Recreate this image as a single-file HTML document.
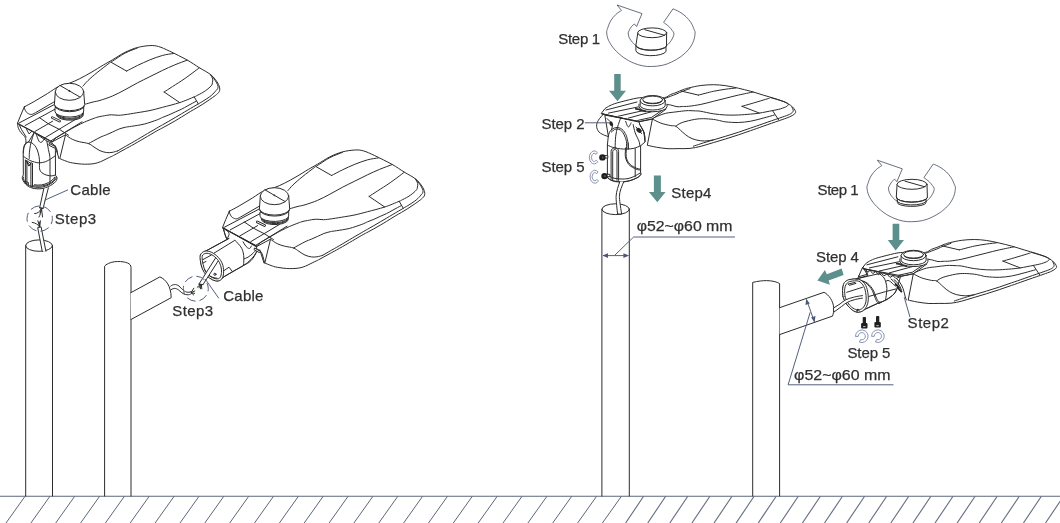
<!DOCTYPE html>
<html><head><meta charset="utf-8"><title>Installation steps</title>
<style>
html,body{margin:0;padding:0;background:#fff;}
body{width:1060px;height:523px;overflow:hidden;}
svg{display:block;will-change:transform;font-family:"Liberation Sans",sans-serif;}
.k{fill:none;stroke:#2c2c2c;stroke-width:1;stroke-linecap:round;stroke-linejoin:round;}
.kw{fill:#fff;stroke:#2c2c2c;stroke-width:1;stroke-linecap:round;stroke-linejoin:round;}
.t{fill:none;stroke:#3a3a3a;stroke-width:0.7;stroke-linecap:round;stroke-linejoin:round;}
.tw{fill:#fff;stroke:#3a3a3a;stroke-width:0.7;stroke-linecap:round;stroke-linejoin:round;}
.b{fill:none;stroke:#56607c;stroke-width:1;stroke-linecap:round;stroke-linejoin:round;}
.g{fill:#5d8f8d;stroke:none;}
text{fill:#303030;font-size:15px;stroke:#303030;stroke-width:0.25px;}
</style></head>
<body>
<svg width="1060" height="523" viewBox="0 0 1060 523">
<rect width="1060" height="523" fill="#fff"/>
<!-- ground -->
<g fill="none" stroke="#5d6778" stroke-width="1" stroke-linecap="butt">
<path d="M0 496.3H1060" stroke-width="1.1"/>
<path d="M25.0 496.3L6.0 523 M49.9 496.3L30.9 523 M74.7 496.3L55.7 523 M99.6 496.3L80.6 523 M124.4 496.3L105.4 523 M149.2 496.3L130.2 523 M174.1 496.3L155.1 523 M199.0 496.3L180.0 523 M223.8 496.3L204.8 523 M248.7 496.3L229.7 523 M273.5 496.3L254.5 523 M298.4 496.3L279.4 523 M323.2 496.3L304.2 523 M348.1 496.3L329.1 523 M372.9 496.3L353.9 523 M397.8 496.3L378.8 523 M422.6 496.3L403.6 523 M447.5 496.3L428.5 523 M472.3 496.3L453.3 523 M497.2 496.3L478.2 523 M522.0 496.3L503.0 523 M546.9 496.3L527.9 523 M571.7 496.3L552.7 523 M596.6 496.3L577.6 523 M621.4 496.3L602.4 523"/>
<path d="M643.6 496.3L625.6 523 M665.7 496.3L647.7 523 M687.8 496.3L669.8 523 M709.9 496.3L691.9 523 M732.0 496.3L714.0 523 M754.1 496.3L736.1 523 M776.2 496.3L758.2 523 M798.3 496.3L780.3 523 M820.4 496.3L802.4 523 M842.5 496.3L824.5 523 M864.6 496.3L846.6 523 M886.7 496.3L868.7 523 M908.8 496.3L890.8 523 M930.9 496.3L912.9 523 M953.0 496.3L935.0 523 M975.1 496.3L957.1 523 M997.2 496.3L979.2 523 M1019.3 496.3L1001.3 523 M1041.4 496.3L1023.4 523 M1063.5 496.3L1045.5 523" stroke-width="1.15" stroke="#677182"/>
</g>
<!-- poles -->
<g class="k">
<path d="M25.7 245.6V496 M52.5 245.6V496"/>
<ellipse cx="39.1" cy="245.6" rx="13.4" ry="5.7"/>
<path d="M104.6 496V266.2 L106 264.8 C109 262.8 113 261.6 117.6 261.5 C121.5 261.5 125 261.9 127.6 263 C129.8 264 131 265.4 131 267.4 V496"/>
<path d="M601.9 209.2V496 M629.3 209.2V496"/>
<ellipse cx="615.7" cy="209.2" rx="13.7" ry="5.4"/>
<path d="M752.7 496V282.4 C758 281.1 763 280.6 766.5 280.6 C772 280.7 777 281.8 779.6 283.6 V496"/>
</g>

<defs><g id="lampL">
<path class="kw" d="M24.5 106.8 C26.2 105.8 31.1 103.3 34.9 101.1 C38.7 98.9 43.2 96.1 47.4 93.6 C51.5 91 56.2 87.5 59.8 85.8 C63.4 84.1 65.9 84.5 69.2 83.3 C72.5 82.1 76.1 80.5 79.7 78.7 C83.3 76.9 87 74.8 91 72.5 C95 70.2 99.8 67.1 103.4 65 C107 62.9 108.9 61.9 112.5 59.8 C116.1 57.7 120.8 54.4 124.9 52.4 C129.1 50.4 133.2 48.6 137.4 47.5 C141.6 46.4 146.3 45.8 149.8 45.6 C153.3 45.4 155.2 45.6 158.5 46.5 C161.8 47.4 164.9 49 169.7 51.2 C174.5 53.5 182.2 57.3 187.1 60 C192 62.7 195.2 65.2 199.1 67.6 C203 70 207.6 72.2 210.5 74.5 C213.4 76.8 215.3 79.4 216.8 81.5 C218.3 83.6 219 85.6 219.5 87.1 C220 88.6 219.8 89.6 219.6 90.5 C219.4 91.4 219.3 91.7 218.6 92.5 C217.9 93.3 217.1 94.2 215.5 95.4 C213.9 96.6 211.3 98.5 209.2 99.9 C207.1 101.4 205 102.8 202.9 104.1 C200.8 105.4 198.6 106.8 196.5 108 C194.4 109.2 192.7 110.1 190.2 111.6 C187.7 113.1 184 115.5 181.5 117 C179 118.5 177.3 119.6 175.2 120.8 C173.1 122 170.9 123.3 168.9 124.4 C166.9 125.5 165.2 126.4 163.2 127.5 C161.2 128.6 160 129.1 156.8 130.9 C153.6 132.7 148.4 135.9 144.2 138.3 C140 140.8 134.7 143.8 131.5 145.6 C128.3 147.4 127.3 147.8 125.2 149 C123.1 150.2 120.9 151.4 118.9 152.5 C116.9 153.6 115 154.7 113.4 155.5 C111.9 156.3 112.3 156.1 109.6 157.3 C106.9 158.5 101.3 161.8 97.2 162.9 C93.1 164.1 88.9 164.2 84.7 164.2 C80.5 164.2 75.4 163.4 72.3 162.9 C69.2 162.4 68.1 161.8 66 161.1 C63.9 160.4 60.8 159 59.8 158.6 L65.5 134.8 L52.3 141.8 L17.5 123.2 L20.8 115 L24.4 106.7Z"/>
<path class="k" d="M210.5 74.8 C210.8 75.1 211.5 75.2 212.4 76.4 C213.3 77.6 215.3 80.5 216.2 82.1 C217.1 83.7 217.8 85.1 218 86.2 C218.2 87.3 217.9 87.9 217.7 88.5 C217.5 89.1 217.5 88.9 216.7 89.8 C215.9 90.7 214.2 92.8 212.9 94 C211.7 95.2 210.9 95.9 209.2 97.1 C207.5 98.3 204.7 100.1 202.9 101.2 C201.1 102.3 200.8 102.4 198.3 103.9 C195.8 105.4 190.7 108.3 187.9 110 C185.1 111.7 183.6 112.5 181.5 113.8 C179.4 115 177.3 116.3 175.2 117.5 C173.1 118.7 171 120 168.9 121.2 C166.8 122.4 164.6 123.7 162.6 124.8 C160.6 125.9 159.9 126.3 156.8 128.1 C153.7 129.9 148.4 133 144.2 135.5 C140 138 134.7 141.2 131.5 143 C128.3 144.8 127.5 145.2 125.2 146.5 C122.9 147.8 119 150.2 117.7 150.9"/>
<path class="k" d="M210.5 74.8 C210.9 75.5 212.4 77.6 212.7 78.9 C213 80.2 212.6 81.7 212.4 82.7 C212.2 83.8 212.4 84.2 211.7 85.2 C210.9 86.2 209.4 87.7 207.9 88.9 C206.4 90.1 204.8 91.2 202.9 92.4 C201 93.6 197.9 95 196.5 95.8 C195.1 96.5 197 95.8 194.2 96.9 C191.4 98 185 100.9 179.7 102.6 C174.4 104.3 167.5 106 162.6 107.3 C157.7 108.6 153.8 109.7 150 110.5 C146.2 111.3 143.6 111.7 139.8 112.3 C136 112.9 130.9 113.8 127.4 114.3 C123.9 114.8 121.3 115.2 118.6 115.3 C115.9 115.4 113.9 114.7 111.2 114.8 C108.5 114.9 104.7 115.7 102.5 116.1 C100.3 116.5 99.6 116.6 98 117 C96.4 117.4 95.2 117.9 93 118.7 C90.8 119.5 87.5 120.8 84.7 122 C81.9 123.2 79.2 124.6 76.4 126.1 C73.6 127.5 71.6 128.7 68.1 130.7 C64.6 132.7 57.7 136.8 55.6 138"/>
<path class="k" d="M194.2 96.9 L198.3 103.9"/>
<path class="k" d="M196.1 101.3 C194.7 102 190.3 104.4 187.9 105.7 C185.5 107 183.6 108.2 181.5 109.2 C179.4 110.2 177.3 111 175.2 112 C173.1 113 171 114 168.9 114.9 C166.8 115.8 164.6 116.6 162.6 117.4 C160.6 118.2 159.9 118.9 156.8 120 C153.7 121.1 148.4 123 144.2 124.1 C140 125.1 134.7 125.8 131.5 126.3 C128.3 126.8 127.3 126.8 125.2 127.3 C123.1 127.8 121 128.3 118.9 129.1 C116.8 129.9 114.7 131.1 112.6 132 C110.5 132.9 108.4 133.9 106.3 134.8 C104.2 135.7 103 135.9 100 137.4 C97 138.9 90.4 142.6 88.5 143.6"/>
<path class="k" d="M65.5 134.8 C66.6 135.6 69.9 138.1 72.3 139.3 C74.7 140.5 77 141.1 79.7 141.8 C82.4 142.5 86.1 142.7 88.5 143.6 C90.9 144.5 92.1 145.8 94 147 C95.9 148.2 98 149.8 100 150.7 C102 151.6 104.3 152.2 106.3 152.5 C108.3 152.8 110.1 152.7 112 152.4 C113.9 152.1 116.8 151.2 117.7 150.9"/>
<path class="k" d="M82.9 86.2 C83.8 85.2 85.6 82.8 88 80.5 C90.4 78.2 93.6 75.4 97.2 72.5 C100.8 69.6 107.1 64.8 109.6 62.9 C112.1 61 109.7 62.9 112.2 61.3 C114.8 59.7 120.7 55.4 124.9 53.2 C129.1 51 135.3 48.9 137.4 48"/>
<path class="k" d="M111.2 62.3 L126.6 71.1"/>
<path class="k" d="M126.6 71.1 C128.4 70.2 133.5 67.4 137.4 65.5 C141.3 63.6 145.7 61.6 149.8 59.9 C154 58.2 158.4 56.6 162.3 55.5 C166.2 54.4 171.6 53.8 173.5 53.5"/>
<path class="k" d="M85.5 104.1 C86.8 103.8 90.6 102.6 93 102 C95.4 101.4 96.8 101.4 100 100.4 C103.2 99.4 108.3 97.8 112.5 96 C116.7 94.2 120.8 92 124.9 89.8 C129.1 87.6 133.2 85.1 137.4 82.9 C141.6 80.7 145.7 78.8 149.8 76.7 C154 74.6 158.2 72.5 162.3 70.5 C166.5 68.5 170.6 66.6 174.7 64.9 C178.8 63.2 185 61 187.1 60.2"/>
<path class="k" d="M199.1 68 C196.8 69.7 189.6 75.2 185.2 78.3 C180.8 81.4 176.1 84.2 172.6 86.5 C169.1 88.8 165.5 91.1 164.1 92"/>
<path class="k" d="M164.1 92 L179.7 102.6"/>
<path class="k" d="M24.4 106.7 C24.4 107 24.4 108.2 24.6 108.8 C24.8 109.4 25.1 109.9 25.4 110.5 C25.7 111.1 26.1 111.9 26.6 112.4 C27.1 112.9 27.9 113.4 28.5 113.7 C29.1 114 29.8 114.3 30.4 114.4 C31 114.5 31.4 114.6 32.3 114.3 C33.1 114 35 113 35.5 112.7 L54.6 101.6"/>
<path class="k" d="M19.4 122.8 L54.6 104.4"/>
<path class="k" d="M25.2 125.5 L55 109.2"/>
<path class="k" d="M34.9 131.5 L52.6 121.2"/>
<path class="k" d="M45.7 137.3 L74.7 119.9"/>
<path class="k" d="M52.3 141.8 L55.6 138"/>
<path class="k" d="M51.3 140.6 L82 121.8"/>
<path class="k" d="M39.2 117.5 L48.4 123.8 L59.8 129.6 L68.5 135.2"/>
<path class="k" d="M18 123.9 L51.8 142" stroke-width="2.3" stroke-linecap="butt"/>
<path d="M52.3 117.6L59.6 121.1" stroke="#2a2a2a" stroke-width="2.7" stroke-linecap="round" fill="none"/><path d="M52.3 117.6L59.6 121.1" stroke="#fff" stroke-width="0.9" stroke-linecap="round" fill="none"/>
<path class="k" d="M54.8 145.4 L59 158.6"/>
<path class="kw" d="M56.6 113 V115.7 A12.9 5.2 0 0 0 83.1 113.8 V110Z"/>
<path class="k" d="M56.4 114.6 A13.1 5.3 0 0 0 83.2 113 M56.2 113.6 A13.3 5.3 0 0 0 83.3 112.2" stroke-width="0.55"/>
<path class="kw" d="M55 108 V111.8 A14 5.6 0 0 0 83.7 110.8 V106Z"/>
<path class="kw" d="M55.3 91.8 L54.4 104.6 A15.2 6.6 0 0 0 84.7 104.6 L83.7 91.8Z"/>
<path class="k" d="M54.6 105.8 A15 6.4 0 0 0 84.5 105.8"/>
<ellipse class="kw" cx="69.5" cy="91.8" rx="14.2" ry="8.5"/>
<path class="k" d="M60.1 85.5 L80 97.1"/>
<circle cx="69.4" cy="90.9" r="0.9" fill="#2e2e2e"/>
</g></defs>
<use href="#lampL"/>
<use href="#lampL" x="205" y="104.4"/>

<g id="lamp1x">
<path class="kw" d="M23.2 152 C23.2 146 25 142.5 28.5 142 L34.2 132.6 L46.8 141 L51.9 143.3 C54.5 145 55.6 147 55.4 152 L55.5 175.2 L57 177.6 C57.6 181 53 185 45.5 187.8 C41 189.3 35 189.3 30.5 187.5 C26 185.5 22.6 181.5 22.2 177.6 L23.2 175.2Z"/>
<path class="k" d="M17.5 123.5 C17.6 124.3 17.8 126.7 18.4 128.2 C19 129.7 19.8 131.2 20.9 132.6 C21.9 134 23.8 135 24.7 136.4 C25.6 137.8 25.9 139.6 26 140.8 C26.1 142 25.7 143.1 25.6 143.5"/>
<path class="k" d="M19.5 125.2 C19.8 125.9 20.7 128.1 21.5 129.5 C22.3 130.9 23.4 132.6 24.2 133.8 C25 135.1 25.9 136.5 26.2 137"/>
<path class="k" d="M26.6 129.5 L29.1 133.9 L31.7 131.4"/>
<path class="k" d="M34.2 132.6 C33.8 133.7 32.6 136.9 32 139 C31.4 141.1 30.8 142.9 30.4 145.2 C30 147.5 29.6 150.6 29.4 152.8 C29.2 155 29.3 157.5 29.3 158.4"/>
<path class="k" d="M23.4 153 C23.5 152.1 23.6 149 24 147.5 C24.4 146 24.9 144.7 25.6 143.8 C26.4 142.9 27.4 142.2 28.5 142.1 C29.6 142 30.9 142.4 32 143 C33 143.6 33.9 144.4 34.8 145.6 C35.7 146.8 36.6 148.2 37.3 150 C38 151.8 38.6 154.3 39 156.3 C39.4 158.3 39.4 159.9 39.5 162 C39.6 164.1 39.2 167.1 39.6 168.9 C40 170.7 40.6 171.6 41.8 172.7 C43 173.8 45.1 174.7 46.8 175.2 C48.5 175.7 50.5 175.9 51.9 175.9 C53.3 175.9 54.7 175.1 55.3 174.9"/>
<path class="k" d="M36.1 133.9 C36.3 134.6 37 136.5 37.5 137.8 C38 139.1 38.6 140.7 39.2 141.5 C39.8 142.3 40.5 142.5 41.1 142.4 C41.7 142.3 42.4 141.6 43 140.8 C43.6 140 44.6 138.2 44.9 137.7"/>
<path class="k" d="M46.8 141.5 C46.9 142.1 47.3 143.7 47.6 145 C47.9 146.3 48.1 147.8 48.4 149.5 C48.7 151.2 49.3 153.3 49.6 155 C49.9 156.7 49.9 158.8 50 159.5 L50 182.6"/>
<path class="kw" d="M49.6 143.6 L54.6 146.3 C55.6 146.9 55.2 148.4 54 147.9 L49.2 145.3Z"/>
<path class="k" d="M51.9 143.3 C52.5 143.8 54.7 145.2 55.6 146.5 C56.5 147.8 56.9 149.8 57.2 151 C57.5 152.2 57.5 153.1 57.6 153.5"/>
<path class="k" d="M23.4 156.2 C23.8 156.5 24.7 157.3 25.8 158 C26.9 158.7 28.4 159.7 29.8 160.4 C31.2 161.1 32.9 161.6 34.5 162 C36.1 162.4 37.4 163 39.2 162.9 C41 162.8 43.4 162.5 45.5 161.7 C47.6 160.9 50.3 159.2 51.9 158.2 C53.5 157.2 54.7 156 55.2 155.6"/>
<path class="k" d="M25.4 160 L25.4 183.6 M26.9 161 L26.9 184.6 M30.9 163 V186.6 M32.5 163.3 V187" stroke-width="0.6"/>
<path class="k" d="M25.6 160.3 L29.5 164.8 L31.2 162.6 M27 162.5 L28.8 166 L30.6 164.6 M26.6 160.6 L31 163.5" stroke-width="0.7"/>
<path class="k" d="M24 181.2 L28.4 182.4 L28.2 185.6" stroke-width="0.8"/>
<path class="k" d="M23.4 177.2 C23.5 177.8 23.3 179.3 24 180.5 C24.7 181.7 26.1 183.3 27.4 184.3 C28.7 185.3 30 186.1 32 186.6 C34 187.1 37 187.5 39.2 187.4 C41.5 187.3 43.4 186.9 45.5 186.2 C47.6 185.5 50.2 184.2 51.9 183 C53.6 181.8 54.9 180.2 55.6 179.2 C56.4 178.2 56.3 177.4 56.4 177"/>
<path class="k" d="M32 185.4 C37 186.8 44 186.4 49 183.8 C52.5 182 54.8 179.6 55.2 177.8 M34.5 184.8 C39 185.6 44 185 48.5 182.6 C51.5 181 53.8 179 54.6 177.2" stroke-width="0.7"/>
<path class="kw" d="M43.7 189 L39.6 208 L43 208.6 L48.4 187.8"/>
<path class="k" d="M39.6 207.6 L43.2 208.3"/>
<path class="k" d="M41.1 209 C39.5 212 37.5 213.6 34.6 213.6 M41.3 209 C41 212.5 40.2 214.8 39 217 M41.6 209 L42.5 217 M41.4 209.5 L40 213" stroke-width="1.1"/>
<path class="k" d="M39.4 226.8 C38.2 224.6 35.6 222.8 32.2 222.4 M39.5 226.6 L37.9 220.8 M39.8 226.6 L40.4 220.8 M39.6 226.5 L39.3 222" stroke-width="1.1"/>
<path class="kw" d="M42.3 251.6 L37.7 227.6 L41.1 226.9 L45.9 251.3"/>
<circle class="b" cx="39.7" cy="218.6" r="12.7" stroke-dasharray="8.3 5" stroke-dashoffset="3" stroke-width="1"/>
<path class="b" d="M44.9 200.1 L67.6 190"/>
</g>

<g id="lamp2x">
<path class="kw" d="M130.8 292.7 L159.9 276.9 C166 279.5 171 286 171.2 297.7 L131 319.5"/>
<path class="kw" d="M170.7 286.1 C172.5 284.4 176 283.6 179 286.1 C182 288.8 184.5 292.3 188.1 292.3 C189.6 292.3 190.6 292 191.4 291.5 L191.6 293.5 C190 294.6 189 294.8 188.1 294.8 C184 295 181.5 292.5 179.8 291 C176.5 288 174 287.6 171.3 289.6"/>
<path class="k" d="M191.3 292.4 L193.8 288.2 M191.4 292.6 L194.8 291 M191.4 292.7 L194.6 293.4 M191.4 292.8 L193.6 295" stroke-width="1.1"/>
<path class="kw" d="M223.2 228.1 L224.9 234.3 L226.5 238.4 L229 238.4 L206.6 250.6 C202 252 200 255 200.4 260.6 C201 267 204 273 208.5 277 C213 281 218 282 220.5 280 L223.2 277.2 L243.4 265.6 C249 262 254 257 256.4 252.3 L256.4 247.2Z"/>
<path class="k" d="M223.2 228.1 C223.4 228.7 223.9 230.3 224.2 231.5 C224.5 232.7 224.8 233.8 225.2 235 C225.6 236.2 226.3 237.8 226.5 238.4"/>
<path class="k" d="M225 229.3 C225.4 229.6 226.8 230.5 227.5 231.2 C228.2 231.9 228.8 232.7 229 233.5 C229.2 234.3 228.9 235.2 228.6 236 C228.3 236.8 227.5 237.8 227.3 238.2"/>
<path class="k" d="M229 238.4 L206.6 250.6"/>
<path class="k" d="M234.4 240.6 L214.1 253.1"/>
<path class="kw" d="M200.4 254.8 C201.2 253.2 203 251.5 204.9 251.1 C206.8 250.7 209.4 251.3 211.6 252.3 C213.8 253.3 216.4 255.4 218.2 257.3 C220 259.2 221.5 261.5 222.4 263.9 C223.3 266.2 223.6 269 223.6 271.4 C223.6 273.8 223.3 276.4 222.4 278 C221.5 279.6 219.9 280.6 218.2 280.9 C216.5 281.2 214.3 280.6 212.4 279.7 C210.5 278.8 208.3 277.3 206.6 275.5 C204.9 273.7 203.4 271.4 202.4 268.9 C201.4 266.4 200.7 263 200.4 260.6 C200.1 258.2 199.7 256.4 200.4 254.8Z"/>
<path class="kw" d="M202.4 255.6 C203 254.4 204.3 253.5 205.8 253.3 C207.3 253.1 209.7 253.6 211.6 254.6 C213.5 255.6 215.9 257.6 217.4 259.4 C218.9 261.2 220 263.5 220.7 265.6 C221.4 267.7 221.6 270.3 221.5 272.2 C221.4 274.1 221 276.1 220.3 277.2 C219.6 278.3 218.7 278.8 217.4 278.9 C216.1 279 214.1 278.4 212.4 277.6 C210.7 276.8 208.8 275.5 207.4 273.9 C206 272.3 204.9 270.3 204.1 268.1 C203.3 265.9 202.7 262.7 202.4 260.6 C202.1 258.5 201.8 256.8 202.4 255.6Z"/>
<path class="k" d="M202.6 259.8 L211.4 255"/>
<path class="k" d="M203 263 L206 261.4"/>
<circle class="k" cx="214.9" cy="274.3" r="1.1"/>
<path class="k" d="M204.5 269.5 C205.1 270.3 206.6 273.2 208 274.5 C209.4 275.8 211.3 276.8 212.8 277.4 C214.3 278 216.3 278.1 217 278.2" stroke-width="0.7"/>
<path class="k" d="M223.4 271 L229 267.2 L232.3 271.4"/>
<path class="k" d="M223.2 277.2 L232.3 271.8 L243.4 265.6"/>
<path class="k" d="M234.8 240.1 C235.4 240.7 237.1 242.5 238.1 243.6 C239.1 244.7 240.1 245.8 240.8 246.9 C241.6 248 242.1 249 242.6 250.4 C243.1 251.8 243.5 253.8 243.7 255.6 C243.9 257.3 243.9 259.2 243.8 260.9 C243.8 262.6 243.5 264.8 243.4 265.6"/>
<path class="k" d="M243.9 258.9 C244.6 258.6 246.7 258 248 257.2 C249.3 256.4 250.9 255.1 252 254.2 C253.1 253.2 254 252.3 254.7 251.5 C255.4 250.7 255.9 249.9 256.2 249.6"/>
<path class="k" d="M243.6 265.4 C244.5 264.9 247.4 263.6 249 262.4 C250.6 261.2 251.8 259.8 253 258.2 C254.2 256.6 255.7 253.5 256.2 252.6"/>
<path class="k" d="M243.1 241.8 C243.4 242.3 244.3 244 245 245 C245.7 246 246.5 247 247.3 247.6 C248.1 248.2 249.1 248.7 249.8 248.4 C250.5 248.1 251.1 246.3 251.4 245.9"/>
<path class="kw" d="M254.8 248.2 L259.6 250.8 C260.6 251.4 260.2 252.9 259 252.4 L254.4 249.9Z"/>
<path class="k" d="M257.2 249 C257.9 249.6 260.4 250.8 261.4 252.3 C262.4 253.8 262.8 256.3 263.4 258.1 C263.9 259.9 264.5 262.3 264.7 263.1"/>
<path class="kw" d="M215.4 258.2 L198.9 284.2 L203 284.6 L218 261.2"/>
<path class="k" d="M198.9 284.2 L203 284.6"/>
<path class="k" d="M200.6 284.6 L197.2 287.2 M201 284.8 L200.4 288.8 M201.4 284.8 L201.8 288.8 M200.8 284.8 L199 287.8" stroke-width="1.1"/>
<circle class="b" cx="195.8" cy="288.7" r="12.5" stroke-dasharray="8.3 4.8" stroke-dashoffset="6" stroke-width="1"/>
<path class="b" d="M205.5 279.4 L218.6 298"/>
<path class="k" d="M223 228.3 L256.8 246.4" stroke-width="2.3" stroke-linecap="butt"/>
</g>

<defs><g id="lampS">
<path class="kw" d="M605.3 108.4 C606.1 107.9 608 106.5 610 105.6 C612 104.7 613.3 104 617.2 102.9 C621.1 101.8 629.3 99.7 633.4 98.8 C637.5 97.9 638.9 97.8 642 97.6 C645.1 97.4 648.2 97.4 652 97.4 C655.8 97.4 661.4 98.1 664.5 97.6 C667.6 97.1 668.8 95.3 670.7 94.5 C672.6 93.7 673.9 93.4 676 92.6 C678.1 91.8 681.1 90.4 683.2 89.6 C685.3 88.8 685.5 88.7 688.5 88 C691.5 87.3 696.8 86 700.9 85.5 C705 85 709.2 84.7 713.4 84.7 C717.5 84.7 721.6 85.1 725.8 85.7 C729.9 86.3 734.1 87.3 738.3 88.2 C742.4 89.1 746.6 90.2 750.7 91.3 C754.9 92.4 759.1 93.8 763.2 95.1 C767.4 96.3 771.9 97.6 775.6 98.8 C779.3 100 782.9 101.2 785.6 102.5 C788.3 103.8 790.2 105 791.8 106.3 C793.3 107.5 794.3 109 794.9 110 C795.5 111 795.9 111.7 795.6 112.5 C795.3 113.3 794.4 114.2 793.1 115 C791.9 115.8 790.4 116.6 788.1 117.5 C785.8 118.4 783.5 119.1 779.4 120.6 C775.2 122 768 124.5 763.2 126.2 C758.4 127.9 754.9 129.2 750.7 130.6 C746.6 132 742.4 133.5 738.3 134.9 C734.1 136.3 729.9 137.6 725.8 138.9 C721.6 140.2 717.5 141.4 713.4 142.6 C709.2 143.8 704.8 145.3 700.9 146.3 C697 147.3 693.8 148 690 148.4 C686.2 148.8 681.7 148.6 678 148.6 C674.3 148.6 671.6 148.9 668 148.7 C664.4 148.5 659.9 147.8 656.4 147.2 C652.9 146.6 648.8 145.6 647.3 145.3 L652.4 119 L639 121.7 L601.6 113.6Z"/>
<path class="kw" d="M603.3 114.2 C602.5 115.2 599.4 118.4 598.3 120.4 C597.2 122.4 596.5 124.3 596.6 126.3 C596.7 128.2 597.7 130.6 599.1 132.1 C600.5 133.6 603.3 134.7 604.9 135.4 C606.5 136.2 608.1 136.4 608.7 136.6"/>
<path class="k" d="M791.8 107 C792 107.5 793.1 109.1 793.2 110 C793.3 110.9 793.1 111.8 792.2 112.6 C791.4 113.4 790.2 114.1 788.1 115 C786 115.9 783.5 116.6 779.4 118.1 C775.2 119.5 768 122 763.2 123.7 C758.4 125.4 754.9 126.6 750.7 128 C746.6 129.4 742.4 130.9 738.3 132.3 C734.1 133.7 729.9 134.9 725.8 136.2 C721.6 137.5 717.5 138.7 713.4 139.9 C709.2 141.2 704.2 142.6 700.9 143.7 C697.6 144.8 694.6 145.8 693.4 146.2"/>
<path class="k" d="M770.6 97.6 C772.7 98.2 780.2 100.3 783.1 101.3 C786 102.3 787.5 103 788.1 103.8 C788.7 104.6 788 105.5 786.8 106.3 C785.5 107.1 783 108.1 780.6 108.8 C778.2 109.5 776 109.9 772.5 110.6 C769 111.3 763 112.5 759.4 113.1 C755.8 113.7 754.2 113.8 750.7 114.1 C747.2 114.4 742.4 114.8 738.3 115 C734.1 115.2 729.9 115.2 725.8 115 C721.6 114.8 717.5 114.4 713.4 113.8 C709.2 113.2 703.9 111.8 700.9 111.3 C697.9 110.8 697.7 111 695.6 110.9 C693.5 110.8 690.6 110.6 688.5 110.6 C686.4 110.6 685.3 110.8 683.2 111 C681.1 111.2 678.9 111.5 676 111.9 C673.1 112.3 669.1 112.5 665.7 113.3 C662.3 114.1 658 116 655.8 116.9 C653.6 117.8 653 118.6 652.4 118.9"/>
<path class="k" d="M772.5 110.6 L778.7 120"/>
<path class="k" d="M769.4 98.2 C768.4 98.5 766.3 99.2 763.2 100.1 C760.1 101 754.2 102.8 750.7 103.8 C747.2 104.8 743.5 105.9 742 106.3"/>
<path class="k" d="M742 106.3 L759.4 113.1"/>
<path class="k" d="M665.7 104.4 C666.5 104.5 668.8 104.6 670.7 105 C672.6 105.4 675.1 106.5 677 106.7 C678.9 107 680.3 106.6 682.2 106.5 C684.1 106.4 685.4 106.6 688.5 106.3 C691.6 106 696.8 105.2 700.9 104.4 C705 103.6 709.2 102.3 713.4 101.3 C717.5 100.3 721.6 99.2 725.8 98.2 C729.9 97.2 733.7 96.1 738.3 95.1 C742.9 94.1 750.7 92.5 753.2 92"/>
<path class="k" d="M681 91 L698.4 95.1"/>
<path class="k" d="M698.4 95.1 C700.9 94.5 708.8 92.3 713.4 91.3 C718 90.3 722.1 89.8 725.8 89.2 C729.5 88.7 734.1 88.2 735.8 88"/>
<path class="k" d="M663.9 98.8 C665 98.4 668.7 97 670.7 96.2 C672.7 95.4 673.9 95.1 676 94.2 C678.1 93.3 680.9 91.9 683.2 91 C685.5 90.1 688.9 89 690 88.6"/>
<path class="k" d="M774.4 115 C772.5 115.5 767.2 117.1 763.2 118.1 C759.2 119.1 754.9 120.5 750.7 121.2 C746.6 121.9 742.4 122.4 738.3 122.5 C734.1 122.6 728.9 122.2 725.8 121.9 C722.7 121.6 721.7 121 719.6 120.6 C717.5 120.2 716.1 119.7 713.4 119.4 C710.7 119.1 706.5 118.7 703.4 118.7 C700.3 118.7 698.2 118.8 694.7 119.4 C691.2 120 685.4 121.4 682.2 122.5 C679 123.6 676.8 125.6 675.7 126.2"/>
<path class="k" d="M652.4 119 C653.8 119.7 657.8 122 660.8 123.1 C663.8 124.2 668.2 125.1 670.7 125.6 C673.2 126.1 673.8 125.2 675.7 126.2 C677.6 127.2 680.1 130 682.2 131.8 C684.3 133.6 686.2 135.5 688.5 136.8 C690.8 138.2 693.2 139.2 695.9 139.9 C698.6 140.6 701.7 141 704.6 141 C707.5 141 711.9 140.1 713.4 139.9"/>
<path class="k" d="M606 110 L637 102"/>
<path class="k" d="M608.5 113.1 L638.4 106.9"/>
<path class="k" d="M618.4 116.2 L645.8 110"/>
<path class="k" d="M628.4 118.1 L655.8 110.6"/>
<path class="k" d="M639 121.7 L652.4 119 L666 109.2"/>
<path class="k" d="M637.8 120.4 L651.5 117.4 L664.6 108.6"/>
<path class="k" d="M602 113.9 L638.6 122" stroke-width="2" stroke-linecap="butt"/>
<path d="M635.8 108.8 L639.2 109.4 L641 110.4 L645.6 111.4" stroke="#2a2a2a" stroke-width="1.8" fill="none" stroke-linecap="round"/>
<path class="kw" d="M639 104.2 V106.3 A14 5.2 0 0 0 667 106.8 V104.2"/>
<path class="kw" d="M640.2 100.7 V105.4 A12.5 4.6 0 0 0 665.2 105.4 V100.7Z"/>
<ellipse class="kw" cx="652.7" cy="100.7" rx="12.5" ry="5.2"/>
<ellipse class="k" cx="652.7" cy="99.7" rx="10" ry="3.6"/>
<path class="k" d="M643.4 101.2 A9.6 3.3 0 0 0 662 101.2" stroke-width="0.7"/>
</g></defs>

<use href="#lampS"/>
<g id="lamp3x">
<path class="kw" d="M604.9 115.5 L608.3 136 L607.4 145 V174.9 L606.6 175.6 C607 178.5 611 181 616 181.7 C621 182.3 627 181.8 632 180 C637 178 640.5 176 641 174 L640.6 173 V145.8 L645 142 L643.9 132.1 L639.8 124.6 L639 121.7Z"/>
<path class="k" d="M608.3 136.6 C608.5 135.9 608.8 133.6 609.4 132.4 C610 131.2 610.8 130.3 611.6 129.6 C612.4 128.9 613.4 128.3 614.4 128 C615.4 127.7 616.4 127.4 617.4 127.5 C618.4 127.6 619.6 127.9 620.6 128.4 C621.6 128.9 622.4 129.6 623.2 130.4 C624 131.2 624.7 132.4 625.2 133.4 C625.8 134.4 626 134.5 626.5 136.2 C627 137.9 627.9 141.6 628.2 143.7 C628.5 145.8 628.4 148.1 628.4 149"/>
<path class="k" d="M611.4 132 C611.9 131.6 613.5 130.1 614.5 129.6 C615.5 129.1 616.4 128.9 617.4 129 C618.4 129.1 619.5 129.4 620.4 130 C621.3 130.6 622.2 131.6 623 132.8 C623.8 134.1 624.7 135.7 625.3 137.5 C625.9 139.3 626.5 140.5 626.6 143.7 C626.8 146.9 625.7 153.2 626.2 156.6 C626.7 160 628.1 162.2 629.8 164.1 C631.5 166 634.6 167.3 636.4 168.2 C638.2 169 639.7 169 640.4 169.2"/>
<path class="k" d="M625.6 148 C625.6 149.5 624.9 154 625.4 156.8 C625.9 159.6 627.2 162.6 628.9 164.6 C630.6 166.6 633.9 168.1 635.8 169 C637.7 169.9 639.6 169.9 640.4 170.1" stroke-width="0.7"/>
<path class="k" d="M620.7 118 C620.2 119.5 618.4 124 617.6 127 C616.8 130 616.1 132.7 615.7 136.2 C615.3 139.7 615.2 145.9 615.1 147.8"/>
<path class="k" d="M625.7 121.3 C626 122 626.8 124.9 627.3 125.8 C627.8 126.7 628.4 127.2 629 126.7 C629.6 126.2 630.8 123.5 631.1 122.9"/>
<path class="k" d="M633.2 124.6 C633.5 126 634.2 130.1 635.2 132.9 C636.2 135.7 638.2 139 639 141.2 C639.8 143.4 639.7 145.2 639.8 146"/>
<path class="k" d="M639.8 124.6 C640.5 125.8 643 129.3 643.9 132.1 C644.8 134.9 645 139.7 645.2 141.2"/>
<path class="k" d="M635.2 148.6 L635.2 176.8"/>
<path class="k" d="M628.1 143 L628.1 149"/>
<path class="k" d="M607.4 145 C607.9 145.3 609.4 146.1 610.6 146.6 C611.9 147.1 613.2 147.5 614.9 147.9 C616.5 148.3 618.6 148.6 620.5 148.8 C622.4 149 624.3 149.2 626.5 149.1 C628.7 149 631.5 148.9 633.9 148.3 C636.2 147.8 639.5 146.2 640.6 145.8"/>
<path class="k" d="M611.1 179 V151.4 C611.1 146.8 618.6 146.8 618.6 151.4 V180.4 M612.7 179.8 V151.8 C612.7 148.8 617 148.8 617 151.8 V180.4"/>
<path class="k" d="M607.6 173.6 C607.9 174.1 608.5 175.5 609.6 176.3 C610.7 177.1 612.1 177.8 614 178.2 C615.9 178.6 618.7 178.9 621 179 C623.3 179.1 625.9 179 628 178.6 C630.1 178.2 631.9 177.4 633.9 176.5 C635.9 175.6 638.8 173.8 639.8 173.2"/>
<path class="k" d="M606.6 174.9 C606.9 175.4 607.1 177.2 608.2 178.2 C609.3 179.2 611 180.1 613.2 180.7 C615.4 181.3 618.7 181.9 621.5 181.9 C624.3 181.9 627 181.5 629.8 180.7 C632.6 179.9 636.2 178.4 638.1 177.3 C640 176.2 640.5 174.6 641 174"/>
<ellipse cx="611.2" cy="123.8" rx="1.7" ry="2.6" fill="#222" transform="rotate(-25 611.2 123.8)"/>
<ellipse cx="639" cy="130.4" rx="2" ry="3" fill="#222" transform="rotate(-50 639 130.4)"/>
<path class="k" d="M607 118.5 L610 121.5 M612.5 126 L611.5 130 M636 127 L641.5 133.5 M642.5 129.5 C644.5 133 645 136 644.8 139" stroke-width="0.8"/>
<rect class="kw" x="604.8" y="155.6" width="3" height="2.4" stroke-width="0.7"/>
<circle cx="602.4" cy="157.4" r="3.2" fill="#1e1e1e"/>
<circle cx="602.8" cy="157.4" r="1" fill="#555"/>
<rect class="kw" x="606.9" y="174.3" width="3" height="2.4" stroke-width="0.7"/>
<circle cx="604.5" cy="176.1" r="3.2" fill="#1e1e1e"/>
<circle cx="604.9" cy="176.1" r="1" fill="#555"/>
<path d="M597.4 152.6 A4.8 6.5 0 1 0 597.8 161.7 L596.2 160.1 A2.7 4.1 0 1 1 596.0 154.4 Z" fill="#fff" stroke="#7d89aa" stroke-width="0.9" stroke-linejoin="round"/>
<path d="M598.1 171.9 A4.8 6.5 0 1 0 598.5 181.0 L596.9 179.4 A2.7 4.1 0 1 1 596.7 173.7 Z" fill="#fff" stroke="#7d89aa" stroke-width="0.9" stroke-linejoin="round"/>
<path class="kw" d="M619.8 181.6 C618.4 186 616.4 191 616.1 196.2 C616 200 616.6 205 617.6 214 L621.6 214 C620.4 206 619.4 200 619.4 196.2 C619.6 191 622 186 623.8 181.6"/>
<path class="b" d="M585.2 122.8 L609 122.8" stroke="#7a86a2" stroke-width="0.9"/>
<path class="g" d="M614.2 74 H620.7 V90.8 H626 L617.5 101.3 L609 90.8 H614.2Z"/>
<path class="g" d="M653.9 175.5 H660.9 V192.1 H665.6 L657.3 202.2 L648.9 192.1 H653.9Z"/>
<path class="b" d="M734.6 237 L633.6 237 L615 255" stroke="#4c5878" stroke-width="1.1"/>
<path class="b" d="M603.4 255.6 L628 255.6" stroke="#4c5878" stroke-width="1.1"/>
<path d="M602.4 255.6 L608 253.2 V258Z M629 255.6 L623.4 253.2 V258Z" fill="#4c5878"/>
<path class="k" d="M602 113.9 L638.6 122" stroke-width="2" stroke-linecap="butt"/>
</g>

<use href="#lampS" x="260.9" y="154.8"/>
<g id="lamp4x">
<path class="kw" d="M779.6 307.7 L824 292.3 C829 294.8 833.2 301 833.7 307.8 C833.8 311 833.4 313.8 832.5 316.1 L779.6 334.6"/>
<path class="kw" d="M862.6 267.4 L858.4 276.9 L866.7 274.4Z"/>
<path class="kw" d="M866 269.5 L868 275.5 L855.9 279 C850 279 845.5 281 843.6 284.5 C842.2 288 842.4 293 843 296.4 C844 301 847 305.5 850.9 308.9 C854 311.6 858.5 313 862.5 311 L865.8 308.9 L877.4 303.5 C884 301.5 890.5 297.5 894 294 C896 291.5 897 289 897.5 286.5 L900.7 276.1Z"/>
<path class="kw" d="M843 296.4 C842.9 295.4 842.6 292.2 842.6 290.5 C842.6 288.8 842.8 287.5 843.1 286.2 C843.4 284.9 843.4 283.8 844.3 282.7 C845.2 281.6 846.5 280.4 848.4 279.8 C850.3 279.2 853.8 278.9 855.9 279 C858 279.1 859.6 279.4 861 280.2 C862.4 280.9 863.6 282.3 864.5 283.5 C865.4 284.7 866.1 286 866.6 287.5 C867.1 289 867.5 290.2 867.8 292.3 C868.1 294.4 868.5 297.5 868.3 299.8 C868.1 302.1 867.6 304.5 866.6 306.4 C865.6 308.3 864.1 310 862.5 311 C860.9 312 858.6 312.6 856.7 312.2 C854.8 311.8 852.7 310.4 850.9 308.9 C849.1 307.4 847.2 305.2 845.9 303.1 C844.6 301 843.5 297.5 843 296.4"/>
<path class="kw" d="M845 296.4 C844.9 295.4 844.6 292.1 844.6 290.5 C844.6 288.9 844.9 287.6 845.2 286.5 C845.5 285.4 845.9 284.6 846.6 283.8 C847.3 283 848.1 282.1 849.6 281.6 C851.1 281.1 854.2 280.8 855.9 280.8 C857.6 280.8 858.9 281.1 860 281.8 C861.1 282.5 862 283.7 862.8 284.8 C863.6 285.9 864.1 287.1 864.6 288.4 C865.1 289.6 865.3 290.6 865.6 292.3 C865.9 294.1 866.3 296.8 866.2 298.9 C866.1 301 865.8 303 865 304.7 C864.2 306.4 863 308.1 861.6 308.9 C860.2 309.7 858.4 310 856.7 309.7 C855.1 309.4 853.2 308.4 851.7 307.2 C850.2 306 848.6 304.1 847.5 302.3 C846.4 300.5 845.4 297.4 845 296.4"/>
<path class="k" d="M861 280.2 C861.8 280.7 864.6 281.9 866 283 C867.4 284.1 868.3 285.2 869.4 286.5 C870.5 287.8 871.5 288.8 872.4 290.6 C873.3 292.4 874.1 295.4 874.9 297.3 C875.7 299.2 876.6 301.3 877.4 302.3 C878.2 303.3 879.5 303.3 879.9 303.5"/>
<path class="k" d="M863.4 281.2 C864.1 281.6 866.4 282.5 867.6 283.4 C868.8 284.3 869.8 285.4 870.8 286.6 C871.8 287.8 872.7 289.1 873.6 290.8 C874.5 292.5 875.2 295.2 876 297 C876.8 298.8 877.5 300.5 878.4 301.4 C879.3 302.3 880.9 302.2 881.4 302.4" stroke-width="0.7"/>
<path class="k" d="M855.9 279 L879.2 273.6"/>
<path class="k" d="M879.2 273.6 C879.9 274.2 882.2 275.5 883.3 276.9 C884.4 278.3 885.2 279.9 885.8 281.9 C886.4 283.8 886.8 286.6 886.9 288.6 C887 290.6 886.6 292.1 886.4 294 C886.2 295.9 885.7 298.8 885.6 299.8"/>
<path class="k" d="M885.8 281.4 C886.2 281.2 887.2 280.3 888 280.4 C888.8 280.5 889.9 281.2 890.8 281.9 C891.7 282.6 892.7 283.8 893.5 284.5 C894.3 285.2 895.3 285.8 895.7 286.1"/>
<path class="k" d="M846.7 292.3 L862.5 287.3"/>
<path class="k" d="M869.1 296.4 L885.5 291.6 L895.7 289"/>
<path class="k" d="M848.4 284 L855.1 282.4 L856 283.4 L849.6 285.2Z" stroke-width="0.7"/>
<path class="k" d="M865.8 308.9 C867.7 308 873.9 305 877.4 303.5 C880.9 302 883.7 301.4 886.5 299.8 C889.3 298.2 892.3 295.8 894 294 C895.7 292.2 896.3 289.8 896.8 289"/>
<path class="k" d="M856 311.4 L858 309.4 L859.4 311.2 M857 312 L857.6 309.2" stroke-width="0.9"/>
<path class="k" d="M864 268.6 L868 272.2 L870 270.4 L872.8 273.6 L875.5 271.6 L878.4 274.8 L881 272.8 L884 275.8 L887 274 L890 277.4 L893 275.6 L896 278.6 L899.5 277" stroke-width="1"/>
<path class="k" d="M891 279 C894 281 897 284.5 898.4 288.5 M894 279.6 C897.5 282 900 285.5 901.4 290 M897 279 C900.5 282.5 903 287 904.2 292.5 C905 296 905.6 298.5 906.4 300" stroke-width="0.9"/>
<path d="M895.6 284.2 L899 287.6 M897.6 287.6 L901.4 291.6" stroke="#222" stroke-width="1.8" stroke-linecap="round"/>
<path class="kw" d="M862.5 295.6 C858 296.2 855 296.8 853.3 297.3 C850.5 298 848 298.8 845.9 299.8 C844 300.8 842 302.2 840.1 303.9 L833.4 308.1 L833.8 312.2 L841.7 306.4 C844 304.6 845.6 303.2 847.5 302.3 C849.5 301.2 851.8 300.4 854.2 299.8 C856 299.2 859 298.6 862.5 298.1"/>
<rect x="862.7" y="316.9" width="3.3" height="7" rx="0.8" fill="#222"/>
<rect x="861.1" y="322.9" width="6.4" height="5.6" rx="1" fill="#1e1e1e"/>
<rect x="863.0" y="326.1" width="2.6" height="1" fill="#bbb"/>
<rect x="876.0" y="316.0" width="3.3" height="7" rx="0.8" fill="#222"/>
<rect x="874.4" y="322.0" width="6.4" height="5.6" rx="1" fill="#1e1e1e"/>
<rect x="876.3" y="325.2" width="2.6" height="1" fill="#bbb"/>
<path d="M855.5 336.5 A6.3 6.3 0 1 1 859.4 342.1 L860.5 339.6 A3.6 3.6 0 1 0 858.2 336.4 Z" fill="#fff" stroke="#7d89aa" stroke-width="0.9" stroke-linejoin="round"/>
<path d="M871.6 336.4 A6.3 6.3 0 1 1 875.5 342.0 L876.6 339.5 A3.6 3.6 0 1 0 874.3 336.3 Z" fill="#fff" stroke="#7d89aa" stroke-width="0.9" stroke-linejoin="round"/>
<path class="g" d="M892.6 223.8 H899.3 V240 H904 L895.7 250.6 L887.8 240 H892.6Z"/>
<path class="g" d="M841.7 268.6 L843.6 274.9 L828.6 280.5 L829.9 284.8 L817.4 280.5 L824.9 269.9 L826.8 274.2Z"/>
<path class="b" d="M904.3 297.5 L909.9 316.8" stroke="#7a86a2" stroke-width="0.9"/>
<path class="b" d="M893.1 384.8 L788.1 384.8 L810.1 312.6" stroke="#4c5878" stroke-width="1.1"/>
<path class="b" d="M806.6 299.8 L814.3 321.6" stroke="#4c5878" stroke-width="1.1"/>
<path d="M806.3 298.9 L809.8 303.6 L805.4 305Z M814.6 322.2 L811.1 317.5 L815.5 316.1Z" fill="#4c5878"/>
<path class="k" d="M862.9 268.7 L899.5 276.8" stroke-width="2" stroke-linecap="butt"/>
</g>

<defs><g id="rotarrow"><path d="M673 8.8 C674.1 9.3 677.5 10.7 679.7 12 C681.9 13.3 684.1 14.9 686 16.7 C687.9 18.5 689.6 20.5 691 22.7 C692.4 24.9 693.5 28 694.2 29.7 C694.9 31.4 695.2 31.1 695.1 32.9 C695 34.7 694.7 37.8 693.7 40.5 C692.7 43.2 691 46.5 688.9 49.1 C686.8 51.7 684.2 54.1 681.3 56.3 C678.4 58.4 674.9 60.5 671.7 62 C668.5 63.5 665.5 64.7 662.1 65.4 C658.8 66.2 654.8 66.4 651.6 66.5 C648.4 66.6 646 66.5 643 65.9 C640 65.3 636.7 64.4 633.5 63 C630.3 61.6 627.1 60 623.9 57.7 C620.7 55.4 616.8 52 614.3 49.1 C611.8 46.2 609.9 43.2 608.6 40.5 C607.3 37.8 606.9 34.9 606.7 32.9 C606.5 30.9 606.9 30.4 607.6 28.4 C608.3 26.4 609.3 23.1 610.7 20.8 C612.1 18.5 614 16.2 615.8 14.5 C617.6 12.8 620.5 11.1 621.5 10.4 L621.5 10.4 L617 5 L642 13.6 L636.6 26.5 L634.4 24 L634.4 24 C633.9 24.4 632.4 25.4 631.5 26.5 C630.6 27.6 629.5 29.8 629 30.9 C628.5 32 628.2 31.8 628.2 32.9 C628.2 34 628.5 36 629.2 37.6 C629.9 39.2 631.4 41.1 632.5 42.4 C633.6 43.7 634.1 44.3 635.9 45.3 C637.6 46.3 640.5 47.9 643 48.6 C645.5 49.4 648.3 49.7 651 49.8 C653.7 49.9 656.4 49.8 659 49 C661.6 48.2 664.9 46.7 666.9 45.3 C668.9 43.9 670.1 42.1 671.2 40.5 C672.3 38.9 673.2 37 673.6 35.7 C674 34.4 674 33.8 673.8 32.9 C673.5 32 672.9 31.4 672.1 30.3 C671.3 29.2 670.3 27.8 668.9 26.5 C667.5 25.2 664.5 23.1 663.6 22.4Z" fill="#fff" stroke="#4d5568" stroke-width="0.85" stroke-linejoin="miter"/></g></defs>
<use href="#rotarrow"/>
<path class="kw" d="M635.9 46 V50.6 A15.2 5.2 0 0 0 666 51.5 V46Z" stroke-width="0.85"/>
<path class="kw" d="M637.8 33 L635.9 45.3 A15.4 4.9 0 0 0 666.5 46 L666.6 33Z"/>
<path class="k" d="M635.9 45.6 A15.4 4.8 0 0 0 666.5 46.3" stroke-width="1.7"/>
<ellipse class="kw" cx="652.2" cy="32.8" rx="14.5" ry="4.9"/>
<path class="k" d="M644.8 29.7 L664.7 35.3"/>
<use href="#rotarrow" x="260.3" y="155.2"/>
<path class="kw" d="M897.3 198 V202.3 A14.4 3.9 0 0 0 926 202.9 V198Z" stroke-width="0.85"/>
<path class="k" d="M897 200.6 A14.6 4 0 0 0 926.4 201.2" stroke-width="0.7"/>
<path class="kw" d="M897.1 184.3 L896.3 197 A15.5 4.8 0 0 0 927.4 197.4 L927 184.3Z"/>
<path class="k" d="M896.3 197.2 A15.5 4.8 0 0 0 927.4 197.6" stroke-width="1.7"/>
<ellipse class="kw" cx="912" cy="184.3" rx="14.95" ry="5"/>
<path class="k" d="M905 181.2 L924.9 186.8"/>

<g>
<text x="70.3" y="194.7" textLength="40.4" font-size="15">Cable</text>
<text x="54.8" y="224.2" textLength="41.3" font-size="15">Step3</text>
<text x="223.3" y="301.4" textLength="40.1" font-size="15">Cable</text>
<text x="172.3" y="316.1" textLength="40.7" font-size="15">Step3</text>
<text x="558.2" y="43.7" textLength="42.0" font-size="15">Step 1</text>
<text x="541.4" y="128.7" textLength="43.2" font-size="15">Step 2</text>
<text x="541.4" y="171.6" textLength="43.2" font-size="15">Step 5</text>
<text x="671.3" y="197.7" textLength="40.0" font-size="15">Step4</text>
<text x="636.7" y="230.7" textLength="95.8" font-size="12.1" lengthAdjust="spacingAndGlyphs">φ52~φ60 mm</text>
<text x="817.6" y="194.5" textLength="41.0" font-size="15">Step 1</text>
<text x="816.0" y="261.8" textLength="42.8" font-size="15">Step 4</text>
<text x="907.6" y="328.0" textLength="41.3" font-size="15">Step2</text>
<text x="847.4" y="358.0" textLength="42.9" font-size="15">Step 5</text>
<text x="794.1" y="379.8" textLength="96.5" font-size="12.1" lengthAdjust="spacingAndGlyphs">φ52~φ60 mm</text>
</g>

</svg>
</body></html>
